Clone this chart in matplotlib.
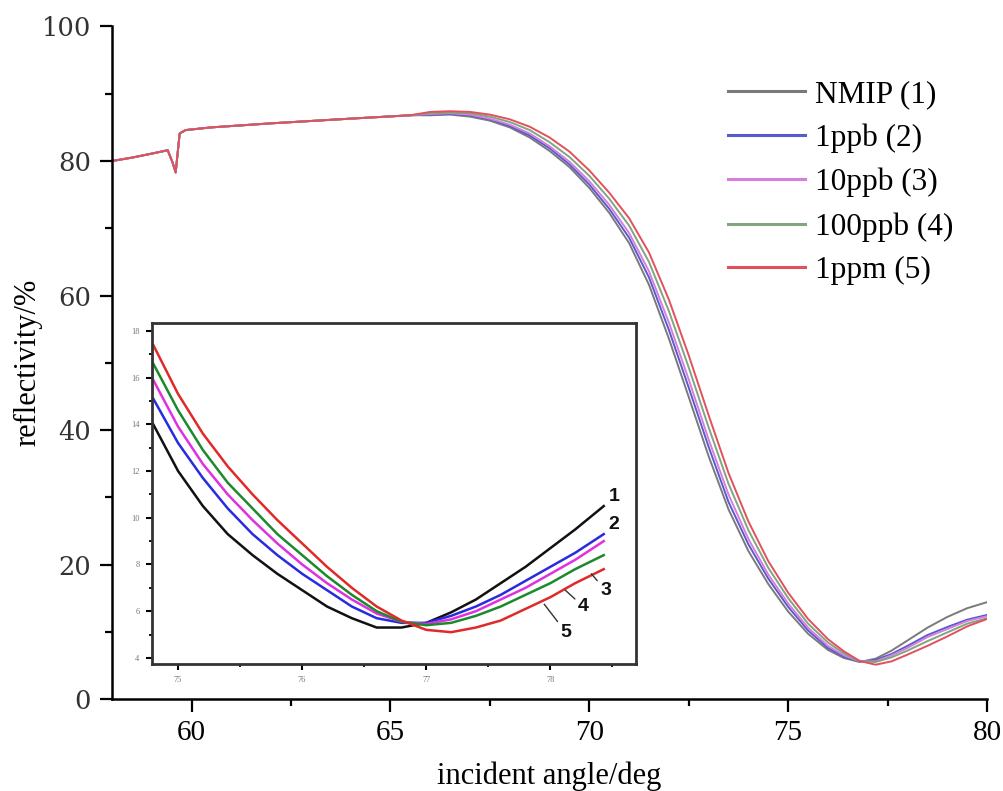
import numpy as np
import matplotlib
matplotlib.use("Agg")
import matplotlib.pyplot as plt
from matplotlib.ticker import MultipleLocator

plt.rcParams['font.family'] = ['Liberation Serif', 'DejaVu Serif']

# ---------------- main curve data ----------------
# shared plateau part (all five curves overlap here)
x_head = [58.0, 58.5, 59.0, 59.4, 59.52, 59.6, 59.7, 59.85, 60.5, 62.0, 64.0, 65.5]
y_head = [80.0, 80.5, 81.1, 81.6, 79.8, 78.3, 84.1, 84.6, 85.0, 85.6, 86.3, 86.8]

x_tail = [66.0, 66.5, 67.0, 67.5, 68.0, 68.5, 69.0, 69.5, 70.0, 70.5, 71.0, 71.5,
          72.0, 72.5, 73.0, 73.5, 74.0, 74.5, 75.0, 75.5, 76.0, 76.4, 76.8, 77.2,
          77.6, 78.0, 78.5, 79.0, 79.5, 80.0]
nmip_tail = [86.8, 86.9, 86.6, 86.0, 85.0, 83.5, 81.5, 79.1, 76.0, 72.3, 67.8, 61.6,
             53.6, 44.9, 36.1, 28.2, 22.0, 17.1, 13.0, 9.7, 7.3, 6.1, 5.5, 6.0,
             7.2, 8.7, 10.6, 12.2, 13.5, 14.4]
ppb1_tail = [86.9, 87.0, 86.8, 86.2, 85.2, 83.8, 81.9, 79.5, 76.5, 72.9, 68.6, 62.7,
             54.9, 46.3, 37.5, 29.3, 23.0, 17.9, 13.7, 10.2, 7.6, 6.3, 5.55, 5.8,
             6.7, 7.9, 9.5, 10.7, 11.8, 12.5]
ppb10_tail = [87.0, 87.1, 86.9, 86.3, 85.4, 84.1, 82.2, 79.9, 77.0, 73.5, 69.3, 63.6,
              56.0, 47.5, 38.6, 30.4, 23.8, 18.5, 14.2, 10.6, 7.9, 6.5, 5.6, 5.6,
              6.5, 7.6, 9.2, 10.4, 11.6, 12.3]
ppb100_tail = [87.1, 87.2, 87.1, 86.6, 85.8, 84.6, 82.8, 80.6, 77.8, 74.4, 70.4, 65.0,
               57.7, 49.3, 40.4, 32.0, 25.1, 19.5, 15.0, 11.2, 8.4, 6.8, 5.6, 5.5,
               6.2, 7.2, 8.6, 9.9, 11.2, 12.0]
ppm1_tail = [87.3, 87.4, 87.3, 86.9, 86.2, 85.1, 83.5, 81.4, 78.6, 75.3, 71.5, 66.4,
             59.4, 51.1, 42.2, 33.6, 26.4, 20.5, 15.8, 11.9, 8.9, 7.1, 5.65, 5.1,
             5.6, 6.6, 7.9, 9.3, 10.8, 11.9]

labels = ["NMIP (1)", "1ppb (2)", "10ppb (3)", "100ppb (4)", "1ppm (5)"]
main_colors = ["#7a7a7a", "#5a5ad0", "#d67ee0", "#7fa67f", "#e2505e"]

# ---------------- inset data ----------------
x_in = [74.8, 75.0, 75.2, 75.4, 75.6, 75.8, 76.0, 76.2, 76.4, 76.6, 76.8, 77.0,
        77.2, 77.4, 77.6, 77.8, 78.0, 78.2, 78.43]
nmip_in = [14.0, 12.0, 10.5, 9.3, 8.4, 7.6, 6.9, 6.2, 5.7, 5.3, 5.3, 5.5,
           5.95, 6.5, 7.2, 7.9, 8.7, 9.5, 10.5]
ppb1_in = [15.1, 13.2, 11.7, 10.4, 9.3, 8.4, 7.6, 6.9, 6.2, 5.7, 5.5, 5.5,
           5.8, 6.2, 6.7, 7.3, 7.9, 8.5, 9.3]
ppb10_in = [15.9, 13.9, 12.3, 11.0, 9.9, 8.9, 8.0, 7.2, 6.5, 5.9, 5.55, 5.45,
            5.65, 6.0, 6.5, 7.0, 7.6, 8.2, 9.0]
ppb100_in = [16.6, 14.6, 12.9, 11.5, 10.4, 9.3, 8.4, 7.5, 6.7, 6.0, 5.55, 5.4,
             5.5, 5.8, 6.2, 6.7, 7.2, 7.8, 8.4]
ppm1_in = [17.4, 15.3, 13.6, 12.2, 11.0, 9.9, 8.9, 7.9, 7.0, 6.2, 5.6, 5.2,
           5.1, 5.3, 5.6, 6.1, 6.6, 7.2, 7.8]
inset_colors = ["#111111", "#2a2ae0", "#e030e0", "#1c8a2c", "#e02a2a"]

# ---------------- figure ----------------
fig = plt.figure(figsize=(10.04, 7.91), dpi=100)
ax = fig.add_axes([0.1116, 0.1163, 0.8715, 0.8502])

tails = [nmip_tail, ppb1_tail, ppb10_tail, ppb100_tail, ppm1_tail]
for tail, c, lab in zip(tails, main_colors, labels):
    ax.plot(x_head + x_tail, y_head + tail, color=c, lw=1.4, label=lab)

ax.set_xlim(58, 80)
ax.set_ylim(0, 100)
ax.spines['top'].set_visible(False)
ax.spines['right'].set_visible(False)
for s in ['left', 'bottom']:
    ax.spines[s].set_linewidth(1.8)
ax.xaxis.set_major_locator(MultipleLocator(5))
ax.xaxis.set_minor_locator(MultipleLocator(2.5))
ax.yaxis.set_major_locator(MultipleLocator(20))
ax.yaxis.set_minor_locator(MultipleLocator(10))
ax.tick_params(which='major', direction='out', length=9, width=1.6, pad=6)
ax.tick_params(which='minor', direction='out', length=5, width=1.6)
ax.tick_params(axis='x', labelsize=21)
ax.tick_params(axis='y', labelsize=18.5)
for t in ax.get_yticklabels():
    t.set_fontfamily('DejaVu Serif')
    t.set_color('#333333')

ax.set_xlabel("incident angle/deg", fontsize=22, labelpad=11)
ax.set_ylabel("reflectivity/%", fontsize=22)
ax.yaxis.set_label_coords(-0.08, 0.5)

leg = ax.legend(loc='upper left', bbox_to_anchor=(728 / 1004, 1 - 80 / 791),
                bbox_transform=fig.transFigure, frameon=False, fontsize=22.5,
                handlelength=2.45, handletextpad=0.33, labelspacing=0.47,
                borderpad=0, borderaxespad=0)
for line in leg.get_lines():
    line.set_linewidth(2.2)

# ---------------- inset ----------------
axi = fig.add_axes([0.1514, 0.1606, 0.4821, 0.4311])
ins = [nmip_in, ppb1_in, ppb10_in, ppb100_in, ppm1_in]
for yv, c in zip(ins, inset_colors):
    axi.plot(x_in, yv, color=c, lw=1.8)
axi.set_xlim(74.79, 78.69)
axi.set_ylim(3.74, 18.34)
for s in axi.spines.values():
    s.set_linewidth(2.0)
    s.set_color('#333333')
axi.xaxis.set_major_locator(MultipleLocator(1))
axi.xaxis.set_minor_locator(MultipleLocator(0.5))
axi.yaxis.set_major_locator(MultipleLocator(2))
axi.yaxis.set_minor_locator(MultipleLocator(1))
axi.tick_params(which='major', direction='out', length=4, width=1.5, pad=5,
                labelsize=6, labelcolor='#777777')
axi.tick_params(which='minor', direction='out', length=2.5, width=1.3)

num_font = dict(fontsize=14, fontweight='bold', family='Liberation Sans', color='#111111')
axi.text(78.47, 10.9, "1", ha='left', va='center', **num_font)
axi.text(78.47, 9.7, "2", ha='left', va='center', **num_font)
axi.annotate("3", xy=(78.33, 7.6), xytext=(78.4, 6.9), ha='left', va='center',
             arrowprops=dict(arrowstyle='-', lw=1, color='#333333', shrinkA=0, shrinkB=0),
             **num_font)
axi.annotate("4", xy=(78.12, 6.9), xytext=(78.22, 6.2), ha='left', va='center',
             arrowprops=dict(arrowstyle='-', lw=1, color='#333333', shrinkA=0, shrinkB=0),
             **num_font)
axi.annotate("5", xy=(77.95, 6.3), xytext=(78.08, 5.1), ha='left', va='center',
             arrowprops=dict(arrowstyle='-', lw=1, color='#333333', shrinkA=0, shrinkB=0),
             **num_font)

fig.savefig("out.png", dpi=100)
